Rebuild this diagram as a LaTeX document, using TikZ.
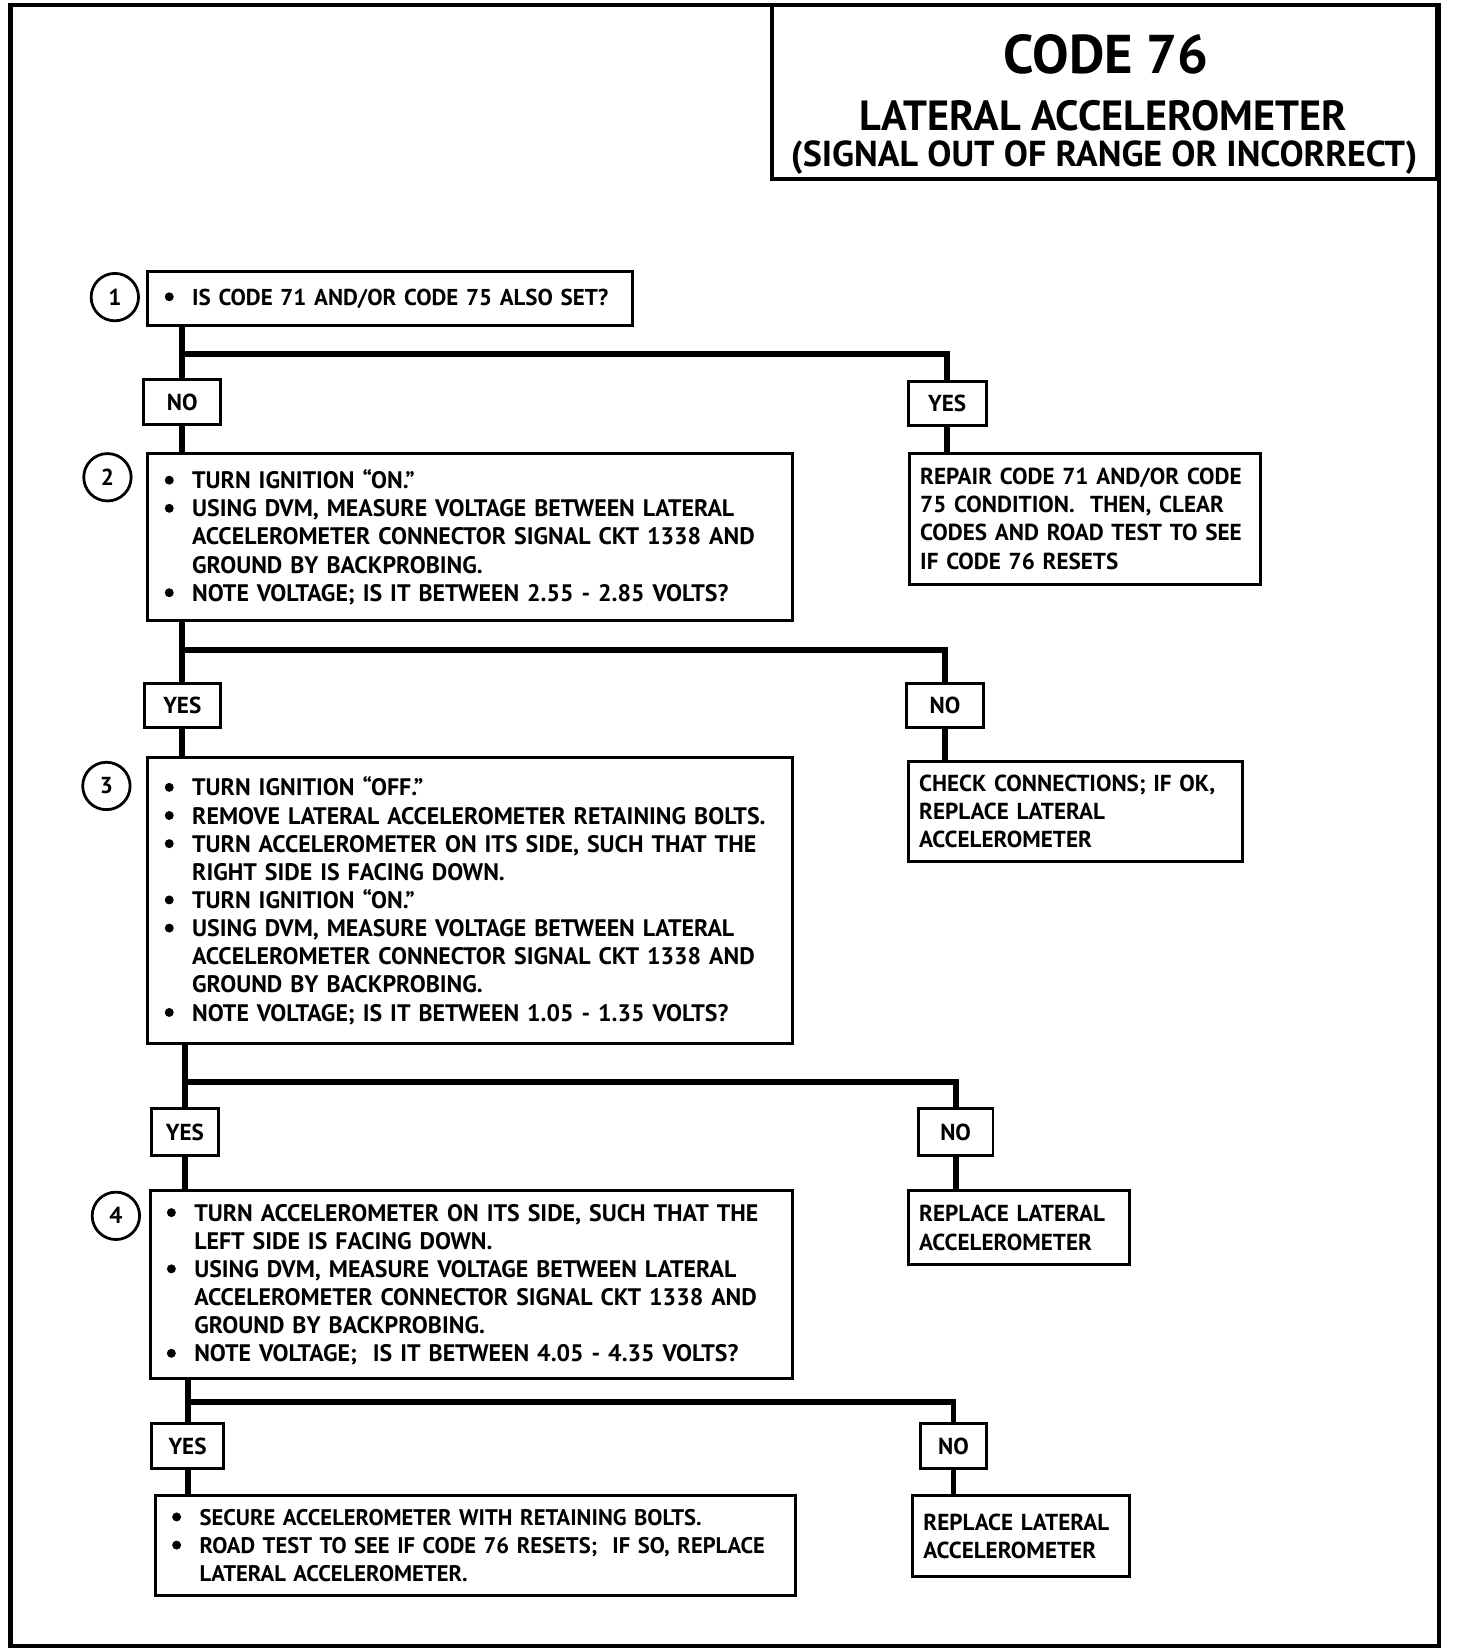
\documentclass[tikz,border=0pt]{standalone}
\usepackage{fontspec}
\setmainfont{PT Sans}
\usetikzlibrary{positioning}
\definecolor{ink}{HTML}{000000}
\newcommand\bodytext{\bfseries\fontsize{12.9}{15.2}\selectfont}
\newcommand\sidetext{\bfseries\fontsize{12.5}{15.2}\selectfont}
\newcommand\itm{\makebox[0.52cm][l]{\raisebox{0.17em}{\tikz\fill[ink] (0,0) circle[radius=0.085cm];}}}
\newcommand\cont{\hspace*{0.52cm}}
\tikzset{
  font=\bfseries,
  %
  frame/.style={draw=ink, line width=2.2pt},
  stepbox/.style={
    draw=ink, line width=1.6pt, fill=white, anchor=north west,
    align=left, inner xsep=0.32cm, inner ysep=0pt, font=\bodytext, text=ink,
  },
  endbox/.style={stepbox, inner xsep=0.2cm, font=\sidetext},
  answer/.style={draw=ink, line width=1.6pt, fill=white, inner sep=0pt,
                 minimum height=0.84cm, font=\sidetext, text=ink},
  stepno/.style={circle, draw=ink, line width=1.5pt, minimum size=0.9cm,
                 inner sep=0pt, font=\sidetext, text=ink},
  wire/.style={draw=ink, line width=3.2pt},
  ttl/.style={text=ink, inner sep=0pt},
}

\begin{document}
\begin{tikzpicture}[x=0.02cm, y=-0.02cm]

  \useasboundingbox (0,0) rectangle (1382,1568);

  % --- frame and title -----------------------------------------------------
  \draw[frame] (10,5) rectangle (1366,1562);
  \node[frame, minimum width=12.62cm, minimum height=3.3cm, inner sep=0pt]
    (title) at (1048.5,87.5) {};
  \node[ttl, font=\bfseries\fontsize{29.5}{30}\selectfont] (code) at (1050,52) {CODE 76};
  \node[ttl, font=\bfseries\fontsize{22.8}{24}\selectfont] (unit) at (1047,110)
    {LATERAL ACCELEROMETER};
  \node[ttl, font=\bfseries\fontsize{19.5}{22}\selectfont] (fault) at (1048,150)
    {(SIGNAL OUT OF RANGE OR INCORRECT)};

  % --- step 1 --------------------------------------------------------------
  \node[stepbox, text width=8.56cm, minimum height=1.04cm,
        font=\bfseries\fontsize{12.4}{15.2}\selectfont] (q1) at (139,256)
    {\itm IS CODE 71 AND/OR CODE 75 ALSO SET?};
  \node[stepno] (n1) at (109,282) {1};

  \node[answer, minimum width=1.46cm] (no1) at (173,381.5) {NO};
  \node[answer, minimum width=1.48cm] (yes1) at (899,383) {YES};
  \node[endbox, text width=6.26cm, minimum height=2.48cm] (r1) at (862,429)
    {REPAIR CODE 71 AND/OR CODE\\
     75 CONDITION.\ \ THEN, CLEAR\\
     CODES AND ROAD TEST TO SEE\\
     IF CODE 76 RESETS};

  % --- step 2 --------------------------------------------------------------
  \node[stepbox, text width=11.6cm, minimum height=3.18cm] (q2) at (139,429)
    {\itm TURN IGNITION ``ON.''\\
     \itm USING DVM, MEASURE VOLTAGE BETWEEN LATERAL\\
     \cont ACCELEROMETER CONNECTOR SIGNAL CKT 1338 AND\\
     \cont GROUND BY BACKPROBING.\\
     \itm NOTE VOLTAGE; IS IT BETWEEN 2.55 - 2.85 VOLTS?};
  \node[stepno] (n2) at (102,453) {2};

  \node[answer, minimum width=1.44cm] (yes2) at (173,669.5) {YES};
  \node[answer, minimum width=1.46cm] (no2) at (897,669.5) {NO};
  \node[endbox, text width=5.94cm, minimum height=1.9cm] (r2) at (861,721)
    {CHECK CONNECTIONS; IF OK,\\
     REPLACE LATERAL\\
     ACCELEROMETER};

  % --- step 3 --------------------------------------------------------------
  \node[stepbox, text width=11.6cm, minimum height=5.42cm] (q3) at (139,718)
    {\itm TURN IGNITION ``OFF.''\\
     \itm REMOVE LATERAL ACCELEROMETER RETAINING BOLTS.\\
     \itm TURN ACCELEROMETER ON ITS SIDE, SUCH THAT THE\\
     \cont RIGHT SIDE IS FACING DOWN.\\
     \itm TURN IGNITION ``ON.''\\
     \itm USING DVM, MEASURE VOLTAGE BETWEEN LATERAL\\
     \cont ACCELEROMETER CONNECTOR SIGNAL CKT 1338 AND\\
     \cont GROUND BY BACKPROBING.\\
     \itm NOTE VOLTAGE; IS IT BETWEEN 1.05 - 1.35 VOLTS?};
  \node[stepno] (n3) at (101,746) {3};

  \node[answer, minimum width=1.26cm, minimum height=0.9cm] (yes3) at (175.5,1074.5) {YES};
  \node[answer, minimum width=1.42cm, minimum height=0.9cm] (no3) at (907,1074.5) {NO};
  \node[endbox, text width=3.8cm, minimum height=1.4cm] (r3) at (861,1129)
    {REPLACE LATERAL\\
     ACCELEROMETER};

  % --- step 4 --------------------------------------------------------------
  \node[stepbox, text width=11.56cm, minimum height=3.56cm] (q4) at (141,1129)
    {\itm TURN ACCELEROMETER ON ITS SIDE, SUCH THAT THE\\
     \cont LEFT SIDE IS FACING DOWN.\\
     \itm USING DVM, MEASURE VOLTAGE BETWEEN LATERAL\\
     \cont ACCELEROMETER CONNECTOR SIGNAL CKT 1338 AND\\
     \cont GROUND BY BACKPROBING.\\
     \itm NOTE VOLTAGE;\ \ IS IT BETWEEN 4.05 - 4.35 VOLTS?};
  \node[stepno] (n4) at (110,1154) {4};

  \node[answer, minimum width=1.36cm] (yes4) at (178,1372.5) {YES};
  \node[answer, minimum width=1.24cm] (no4) at (905,1372.5) {NO};
  \node[stepbox, text width=11.52cm, minimum height=1.9cm,
        font=\bfseries\fontsize{12.2}{15.2}\selectfont] (q5) at (146,1418)
    {\itm SECURE ACCELEROMETER WITH RETAINING BOLTS.\\
     \itm ROAD TEST TO SEE IF CODE 76 RESETS;\ \ IF SO, REPLACE\\
     \cont LATERAL ACCELEROMETER.};
  \node[endbox, text width=3.72cm, minimum height=1.54cm] (r4) at (865,1418)
    {REPLACE LATERAL\\
     ACCELEROMETER};

  % --- the branches ----------------------------------------------------------
  \coordinate (s1) at (173,336);
  \coordinate (s2) at (173,617);
  \coordinate (s3) at (175.5,1027);
  \coordinate (s4) at (178,1331);

  \draw[wire] (no1.north |- q1.south) -- (no1.north);
  \draw[wire] (s1) -| (yes1.north);
  \draw[wire] (no1.south) -- (no1.south |- q2.north);
  \draw[wire] (yes1.south) -- (yes1.south |- r1.north);

  \draw[wire] (yes2.north |- q2.south) -- (yes2.north);
  \draw[wire] (s2) -| (no2.north);
  \draw[wire] (yes2.south) -- (yes2.south |- q3.north);
  \draw[wire] (no2.south) -- (no2.south |- r2.north);

  \draw[wire] (yes3.north |- q3.south) -- (yes3.north);
  \draw[wire] (s3) -| (no3.north);
  \draw[wire] (yes3.south) -- (yes3.south |- q4.north);
  \draw[wire] (no3.south) -- (no3.south |- r3.north);

  \draw[wire] (yes4.north |- q4.south) -- (yes4.north);
  \draw[wire] (s4) -| (no4.north);
  \draw[wire] (yes4.south) -- (yes4.south |- q5.north);
  \draw[wire] (no4.south) -- (no4.south |- r4.north);

\end{tikzpicture}
\end{document}
